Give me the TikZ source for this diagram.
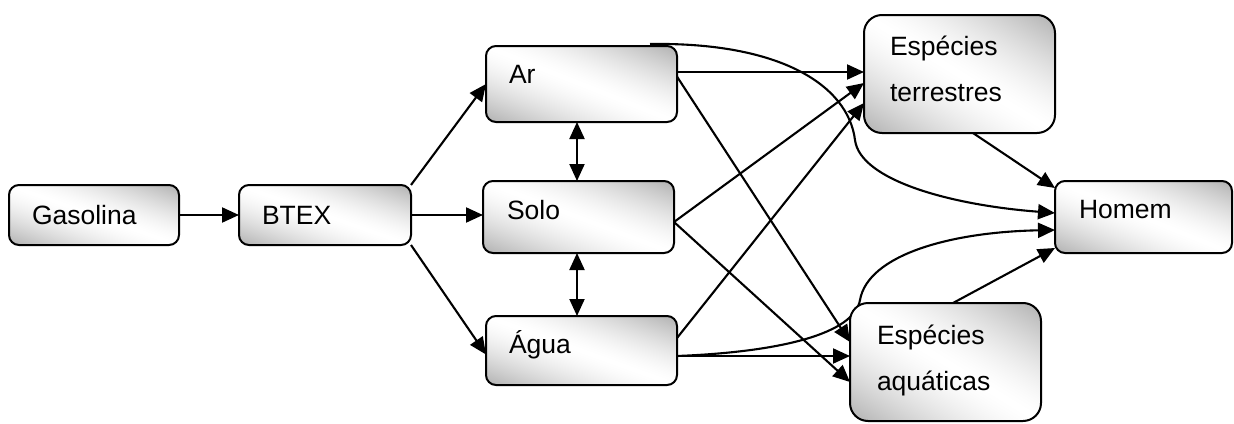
\documentclass[tikz,border=0pt]{standalone}
\usepackage{fontspec}
\setmainfont{Liberation Sans}
\usetikzlibrary{arrows.meta,calc}
\pgfdeclarelayer{bg}
\pgfsetlayers{bg,main}
\pgfdeclarefunctionalshading{boxshade}{\pgfpoint{-50bp}{-50bp}}{\pgfpoint{50bp}{50bp}}{}{
  add abs 50 div dup 1 gt {pop 1} if dup sqrt mul 0.31 mul neg 1 add dup dup
}
\begin{document}
\begin{tikzpicture}[x=1pt,y=-1pt,
  box/.style={draw=black, line width=2pt, rounded corners=10pt,
    shade, shading=boxshade,
    inner sep=0pt, outer sep=0pt},
  bigbox/.style={box, rounded corners=18pt},
  lbl/.style={inner sep=0pt, outer sep=0pt, anchor=base west,
    font=\fontsize{26.5}{30}\selectfont},
  arr/.style={line width=2.1pt, -{Triangle[length=17pt,width=15pt]}},
  darr/.style={line width=2.1pt,
    {Triangle[length=17pt,width=15pt]}-{Triangle[length=17pt,width=15pt]}}]

\useasboundingbox (0,0) rectangle (1234,423);

% boxes
\node[box, minimum width=170pt, minimum height=60pt] (gas) at (94,215) {};
\node[box, minimum width=172pt, minimum height=60pt] (btex) at (325,215) {};
\node[box, minimum width=191pt, minimum height=76pt] (ar) at (581.5,84) {};
\node[box, minimum width=191pt, minimum height=72pt] (solo) at (578.5,217) {};
\node[box, minimum width=191pt, minimum height=69pt] (agua) at (581.5,350.5) {};
\node[bigbox, minimum width=191pt, minimum height=118pt] (terr) at (959.5,74) {};
\node[box, minimum width=177pt, minimum height=72pt] (homem) at (1143.5,217) {};
\node[bigbox, minimum width=191pt, minimum height=118pt] (aqua) at (945.5,362) {};

% texts
\node[lbl] (gas-t) at (32,224) {Gasolina};
\node[lbl] (btex-t) at (262,224) {BTEX};
\node[lbl] (ar-t) at (509,83) {Ar};
\node[lbl] (solo-t) at (507,219) {Solo};
\node[lbl] (agua-t) at (509,353) {Água};
\node[lbl] (terr-t1) at (890,55) {Espécies};
\node[lbl] (terr-t2) at (890,101) {terrestres};
\node[lbl] (homem-t) at (1079,218) {Homem};
\node[lbl] (aqua-t1) at (877,344) {Espécies};
\node[lbl] (aqua-t2) at (877,390) {aquáticas};

% connector end points
\coordinate (arR) at ($(ar.north east)+(-3,26)$);
\coordinate (arT) at ($(ar.north)+(68.5,-2)$);
\coordinate (solR) at ($(solo.east)+(0,5)$);
\coordinate (agR1) at ($(agua.north east)+(0,22)$);
\coordinate (agR2) at ($(agua.north east)+(0,40)$);
\coordinate (terrA) at ($(terr.north west)+(0,57)$);
\coordinate (terrB) at ($(terr.north west)+(0,68)$);
\coordinate (terrC) at ($(terr.north west)+(0,88)$);
\coordinate (terrS) at ($(terr.south west)+(109,0)$);
\coordinate (aquaA) at ($(aqua.north west)+(0,39)$);
\coordinate (aquaB) at ($(aqua.north west)+(0,53)$);
\coordinate (aquaC) at ($(aqua.north west)+(0,79)$);
\coordinate (aquaN) at ($(aqua.north west)+(103,0)$);
\coordinate (homA) at ($(homem.north west)+(0,7)$);
\coordinate (homB) at ($(homem.north west)+(0,32)$);
\coordinate (homC) at ($(homem.north west)+(0,49)$);
\coordinate (homD) at ($(homem.north west)+(0,67)$);

\begin{pgfonlayer}{bg}
\fill[white] (0,0) rectangle (1234,423);
\draw[arr] (gas) -- (btex);
\draw[arr] (btex.north east) -- (ar.west);
\draw[arr] (btex.east) -- (btex.east -| solo.west);
\draw[arr] (btex.south east) -- ($(agua.west)+(0,4)$);
\draw[darr] ($(ar.south)+(-4.5,0)$) -- ($(solo.north)+(-1.5,0)$);
\draw[darr] ($(solo.south)+(-1.5,0)$) -- ($(agua.north)+(-4.5,0)$);
\draw[arr] (arR) -- (terrA);
\draw[arr] (arR) -- (aquaA);
\draw[arr] (solR) -- (terrB);
\draw[arr] (solR) -- (aquaC);
\draw[arr] (agR1) -- (terrC);
\draw[arr] (agR2) -- (aquaB);
\draw[arr] (terrS) -- (homA);
\draw[arr] (aquaN) -- (homD);
\draw[arr] (arT) .. controls (780,42) and (848,85) .. (855,140)
  .. controls (860,180) and (950,205) .. (homB);
\draw[arr] (agR2) .. controls (780,352) and (854,334) .. (860,300)
  .. controls (868,255) and (950,232) .. (homC);
\end{pgfonlayer}
\end{tikzpicture}
\end{document}
